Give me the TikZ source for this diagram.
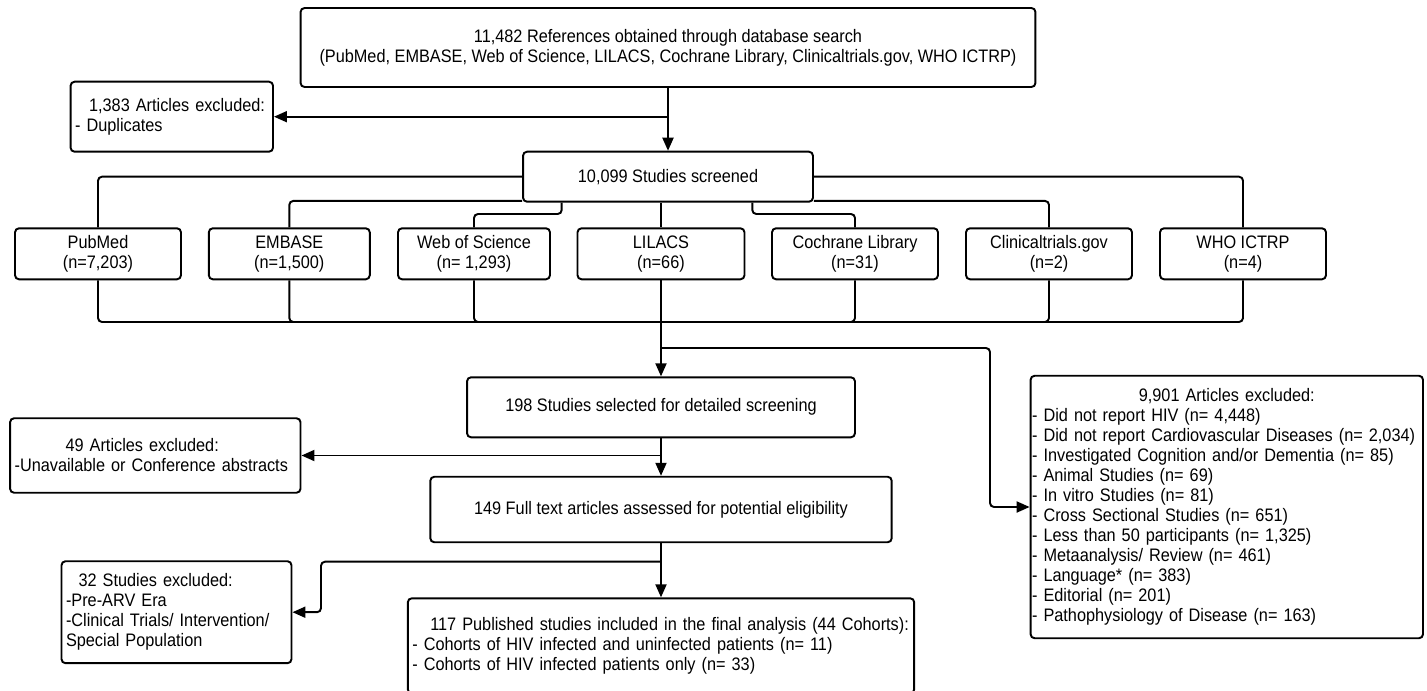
\documentclass[tikz,border=0pt]{standalone}
\usepackage{fontspec}
\setmainfont{Liberation Sans}[FakeStretch=0.9]
\usetikzlibrary{arrows.meta}
\tikzset{
  box/.style={draw, line width=1.1pt, rounded corners=0.08cm, align=center, inner sep=0.09cm,
    font=\fontsize{10.3pt}{11.4pt}\selectfont},
  lbox/.style={box, align=left},
  link/.style={line width=1.1pt, rounded corners=0.08cm},
  arr/.style={link, -{Triangle[length=0.26cm,width=0.22cm]}}
}
\begin{document}
\begin{tikzpicture}[x=0.02cm,y=-0.02cm]
    \useasboundingbox (0,0) rectangle (1427,690);
    % search and screening
    \node[box, minimum width=14.7cm, minimum height=1.58cm] (top) at (668,47.5)
        {11,482 References obtained through database search\\(PubMed, EMBASE, Web of Science, LILACS, Cochrane Library, Clinicaltrials.gov, WHO ICTRP)};
    \node[lbox, text width=3.87cm, minimum height=1.4cm] (dup) at (171.8,116.7)
        {\hspace*{0.28cm}1,383 Articles excluded:\\- Duplicates};
    \node[box, minimum width=5.8cm, minimum height=1cm] (screened) at (668,176.7) {10,099 Studies screened};
    % databases
    \node[box, minimum width=3.32cm, minimum height=1.02cm] (pubmed) at (98,253.8) {PubMed\\(n=7,203)};
    \node[box, minimum width=3.22cm, minimum height=1.02cm] (embase) at (289.3,253.8) {EMBASE\\(n=1,500)};
    \node[box, minimum width=3.04cm, minimum height=1.02cm] (wos) at (474,253.8) {Web of Science\\(n= 1,293)};
    \node[box, minimum width=3.34cm, minimum height=1.02cm] (lilacs) at (661,253.8) {LILACS\\(n=66)};
    \node[box, minimum width=3.32cm, minimum height=1.02cm] (cochrane) at (855,253.8) {Cochrane Library\\(n=31)};
    \node[box, minimum width=3.32cm, minimum height=1.02cm] (clinical) at (1049,253.8) {Clinicaltrials.gov\\(n=2)};
    \node[box, minimum width=3.32cm, minimum height=1.02cm] (who) at (1243,253.8) {WHO ICTRP\\(n=4)};
    % selection
    \node[box, minimum width=7.76cm, minimum height=1.2cm] (sel) at (661,407.3) {198 Studies selected for detailed screening};
    \node[lbox, text width=5.63cm, minimum height=1.49cm] (unavail) at (155.3,455.5)
        {\hspace*{1.02cm}49 Articles excluded:\\-Unavailable or Conference abstracts};
    \node[box, minimum width=9.23cm, minimum height=1.31cm] (full) at (661,509.5) {149 Full text articles assessed for potential eligibility};
    \node[lbox, text width=4.42cm, minimum height=2.04cm] (prearv) at (176.5,612.2)
        {\hspace*{0.25cm}32 Studies excluded:\\-Pre-ARV Era\\-Clinical Trials/ Intervention/\\Special Population};
    \node[lbox, text width=9.95cm, minimum height=1.9cm] (final) at (661,645.8)
        {\hspace*{0.36cm}117 Published studies included in the final analysis (44 Cohorts):\\
         - Cohorts of HIV infected and uninfected patients (n= 11)\\
         - Cohorts of HIV infected patients only (n= 33)};
    \node[lbox, inner xsep=0.03cm, text width=7.79cm, minimum height=5.25cm] (excl) at (1226.8,507)
        {\makebox[7.79cm]{9,901 Articles excluded:}\\
         - Did not report HIV (n= 4,448)\\
         - Did not report Cardiovascular Diseases (n= 2,034)\\
         - Investigated Cognition and/or Dementia (n= 85)\\
         - Animal Studies (n= 69)\\
         - In vitro Studies (n= 81)\\
         - Cross Sectional Studies (n= 651)\\
         - Less than 50 participants (n= 1,325)\\
         - Metaanalysis/ Review (n= 461)\\
         - Language* (n= 383)\\
         - Editorial (n= 201)\\
         - Pathophysiology of Disease (n= 163)};
    % helper points
    \coordinate (woskink) at (561.7,214);
    \coordinate (cochkink) at (752.3,214);
    \coordinate (bus) at (661,322);
    \coordinate (fork) at (661,348);
    \coordinate (elbow) at (990,348);
    \coordinate (fork2) at (661,561.7);
    \coordinate (elbow2) at (321,561.7);
    % connectors
    \draw[arr] (top.south) -- (screened.north);
    \draw[arr] (top.south |- dup.east) -- (dup.east);
    \draw[link] (screened.west) -| (pubmed.north);
    \draw[link] ([yshift=0.035cm]screened.south west) -| (embase.north);
    \draw[link] (woskink |- screened.south) -- (woskink) -| (wos.north);
    \draw[link] (lilacs.north |- screened.south) -- (lilacs.north);
    \draw[link] (cochkink |- screened.south) -- (cochkink) -| (cochrane.north);
    \draw[link] ([yshift=0.035cm]screened.south east) -| (clinical.north);
    \draw[link] (screened.east) -| (who.north);
    \foreach \db in {pubmed,embase,wos,cochrane,clinical,who}
        \draw[link] (\db.south) |- (bus);
    \draw[link] (lilacs.south) -- (bus);
    \draw[arr] (bus) -- (sel.north);
    \draw[arr] (fork) -- (elbow) |- (excl.west);
    \draw[arr] (sel.south) -- (full.north);
    \draw[arr] (sel.south |- unavail.east) -- (unavail.east);
    \draw[arr] (full.south) -- (final.north);
    \draw[arr] (fork2) -- (elbow2) |- (prearv.east);
\end{tikzpicture}
\end{document}
